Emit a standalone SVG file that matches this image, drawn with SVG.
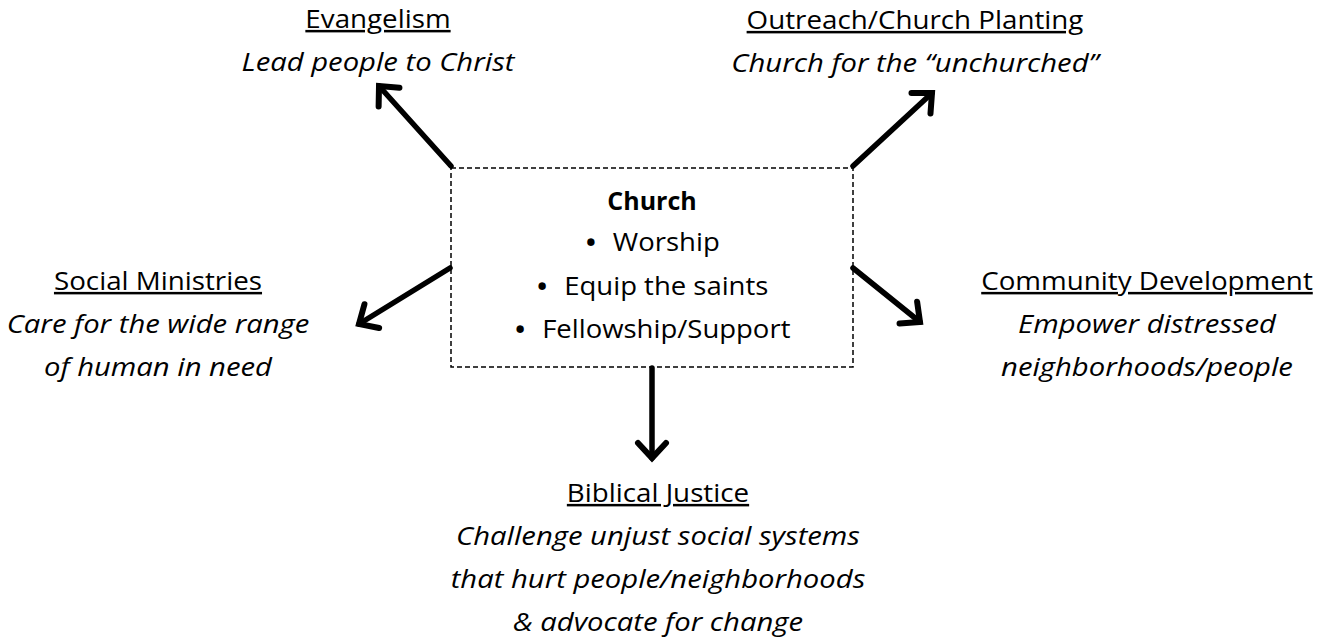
<svg xmlns="http://www.w3.org/2000/svg" width="1333" height="644" viewBox="0 0 1333 644">
<defs>
<style>
text{font-family:"Open Sans",Lato,"Liberation Sans",sans-serif;font-size:25px;fill:#000;text-anchor:middle}
.t{text-decoration:underline}
.i{font-style:italic}
.b{font-weight:bold}
.c{stroke:#000;stroke-width:5.5;fill:none;stroke-linecap:round;marker-end:url(#ah)}
</style>
<marker id="ah" markerUnits="userSpaceOnUse" markerWidth="40" markerHeight="40" refX="20" refY="20" orient="auto" viewBox="0 0 40 40">
<path d="M5,6 L20,20 L5,34" fill="none" stroke="#000" stroke-width="6" stroke-linecap="round" stroke-linejoin="miter"/>
</marker>
</defs>
<rect width="1333" height="644" fill="#fff"/>
<g id="connectors">
<line class="c" x1="451" y1="166" x2="379" y2="86"/>
<line class="c" x1="853" y1="166" x2="932" y2="93"/>
<line class="c" x1="450" y1="268" x2="359" y2="324"/>
<line class="c" x1="853" y1="268" x2="920" y2="322"/>
<line class="c" x1="652" y1="368" x2="652" y2="458"/>
</g>
<g id="church">
<rect x="451" y="168" width="402" height="199" fill="none" stroke="#000" stroke-width="1.5" stroke-dasharray="5,3"/>
<text class="b" x="652" y="210">Church</text>
<g transform="translate(652,0) scale(1.1,1) translate(-652,0)">
<text x="652" y="251"><tspan font-size="32" dy="3">•</tspan><tspan dx="14" dy="-3">Worship</tspan></text>
<text x="652" y="295"><tspan font-size="32" dy="3">•</tspan><tspan dx="14" dy="-3">Equip the saints</tspan></text>
<text x="652" y="338"><tspan font-size="32" dy="3">•</tspan><tspan dx="14" dy="-3">Fellowship/Support</tspan></text>
</g>
</g>
<g id="evangelism">
<text class="t" x="378" y="28" transform="translate(378,0) scale(1.11,1) translate(-378,0)">Evangelism</text>
<text class="i" x="378" y="71" transform="translate(378,0) scale(1.17,1) translate(-378,0)">Lead people to Christ</text>
</g>
<g id="outreach">
<text class="t" x="915" y="29" transform="translate(915,0) scale(1.11,1) translate(-915,0)">Outreach/Church Planting</text>
<text class="i" x="915" y="72" transform="translate(915,0) scale(1.17,1) translate(-915,0)">Church for the “unchurched”</text>
</g>
<g id="social">
<text class="t" x="158" y="290" transform="translate(158,0) scale(1.11,1) translate(-158,0)">Social Ministries</text>
<g transform="translate(158,0) scale(1.17,1) translate(-158,0)">
<text class="i" x="158" y="333">Care for the wide range</text>
<text class="i" x="158" y="376">of human in need</text>
</g>
</g>
<g id="community">
<text class="t" x="1147" y="290" transform="translate(1147,0) scale(1.11,1) translate(-1147,0)">Community Development</text>
<g transform="translate(1147,0) scale(1.17,1) translate(-1147,0)">
<text class="i" x="1147" y="333">Empower distressed</text>
<text class="i" x="1147" y="376">neighborhoods/people</text>
</g>
</g>
<g id="justice">
<text class="t" x="658" y="502" transform="translate(658,0) scale(1.11,1) translate(-658,0)">Biblical Justice</text>
<g transform="translate(658,0) scale(1.17,1) translate(-658,0)">
<text class="i" x="658" y="545">Challenge unjust social systems</text>
<text class="i" x="658" y="588">that hurt people/neighborhoods</text>
<text class="i" x="658" y="631">&amp; advocate for change</text>
</g>
</g>
</svg>
